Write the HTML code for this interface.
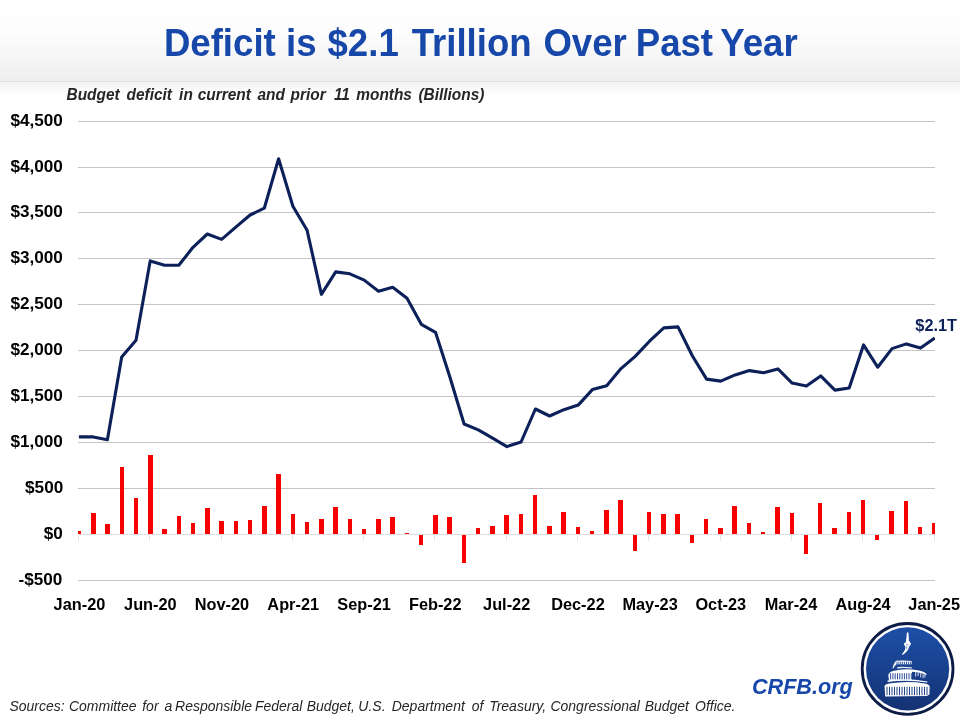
<!DOCTYPE html>
<html lang="en"><head><meta charset="utf-8"><title>Deficit is $2.1 Trillion Over Past Year</title>
<style>html,body{margin:0;padding:0;background:#fff}body{width:960px;height:720px;overflow:hidden}svg{display:block;will-change:transform;font-family:"Liberation Sans",sans-serif}</style>
</head><body>
<svg width="960" height="720" viewBox="0 0 960 720">
<defs>
<linearGradient id="hdr" x1="0" y1="0" x2="0" y2="1"><stop offset="0" stop-color="#ffffff"/><stop offset="0.38" stop-color="#fdfdfd"/><stop offset="1" stop-color="#eeeeee"/></linearGradient>
<linearGradient id="shd" x1="0" y1="0" x2="0" y2="1"><stop offset="0" stop-color="#f3f3f3"/><stop offset="1" stop-color="#ffffff"/></linearGradient>
<linearGradient id="disc" x1="0" y1="0" x2="0" y2="1"><stop offset="0" stop-color="#1d4fa8"/><stop offset="1" stop-color="#143273"/></linearGradient>
<mask id="tm" maskUnits="userSpaceOnUse" x="0" y="0" width="960" height="720"><rect width="960" height="720" fill="#fff"/></mask>
<clipPath id="plot"><rect x="78" y="100" width="857" height="500"/></clipPath>
</defs>
<rect width="960" height="720" fill="#fff"/>
<rect x="0" y="0" width="960" height="81" fill="url(#hdr)"/>
<rect x="0" y="81" width="960" height="1" fill="#e1e1e1"/>
<rect x="0" y="82" width="960" height="14" fill="url(#shd)"/>
<g fill="#c4c4c4">
<rect x="78" y="121" width="857" height="1"/>
<rect x="78" y="167" width="857" height="1"/>
<rect x="78" y="212" width="857" height="1"/>
<rect x="78" y="258" width="857" height="1"/>
<rect x="78" y="304" width="857" height="1"/>
<rect x="78" y="350" width="857" height="1"/>
<rect x="78" y="396" width="857" height="1"/>
<rect x="78" y="442" width="857" height="1"/>
<rect x="78" y="488" width="857" height="1"/>
<rect x="78" y="580" width="857" height="1"/>
</g>
<rect x="78" y="534" width="857" height="1" fill="#dcdddf"/>
<g fill="#e3e5e8">
<rect x="78" y="535" width="1" height="6"/>
<rect x="149" y="535" width="1" height="6"/>
<rect x="221" y="535" width="1" height="6"/>
<rect x="292" y="535" width="1" height="6"/>
<rect x="363" y="535" width="1" height="6"/>
<rect x="434" y="535" width="1" height="6"/>
<rect x="506" y="535" width="1" height="6"/>
<rect x="577" y="535" width="1" height="6"/>
<rect x="648" y="535" width="1" height="6"/>
<rect x="720" y="535" width="1" height="6"/>
<rect x="791" y="535" width="1" height="6"/>
<rect x="862" y="535" width="1" height="6"/>
<rect x="934" y="535" width="1" height="6"/>
</g>
<g fill="#f80000" clip-path="url(#plot)">
<rect x="77" y="531" width="4" height="3"/>
<rect x="91" y="513" width="5" height="21"/>
<rect x="105" y="524" width="5" height="10"/>
<rect x="120" y="467" width="4" height="67"/>
<rect x="134" y="498" width="4" height="36"/>
<rect x="148" y="455" width="5" height="79"/>
<rect x="162" y="529" width="5" height="5"/>
<rect x="177" y="516" width="4" height="18"/>
<rect x="191" y="523" width="4" height="11"/>
<rect x="205" y="508" width="5" height="26"/>
<rect x="219" y="521" width="5" height="13"/>
<rect x="234" y="521" width="4" height="13"/>
<rect x="248" y="520" width="4" height="14"/>
<rect x="262" y="506" width="5" height="28"/>
<rect x="276" y="474" width="5" height="60"/>
<rect x="291" y="514" width="4" height="20"/>
<rect x="305" y="522" width="4" height="12"/>
<rect x="319" y="519" width="5" height="15"/>
<rect x="333" y="507" width="5" height="27"/>
<rect x="348" y="519" width="4" height="15"/>
<rect x="362" y="529" width="4" height="5"/>
<rect x="376" y="519" width="5" height="15"/>
<rect x="390" y="517" width="5" height="17"/>
<rect x="405" y="533" width="4" height="1"/>
<rect x="419" y="535" width="4" height="10"/>
<rect x="433" y="515" width="5" height="19"/>
<rect x="447" y="517" width="5" height="17"/>
<rect x="462" y="535" width="4" height="28"/>
<rect x="476" y="528" width="4" height="6"/>
<rect x="490" y="526" width="5" height="8"/>
<rect x="504" y="515" width="5" height="19"/>
<rect x="519" y="514" width="4" height="20"/>
<rect x="533" y="495" width="4" height="39"/>
<rect x="547" y="526" width="5" height="8"/>
<rect x="561" y="512" width="5" height="22"/>
<rect x="576" y="527" width="4" height="7"/>
<rect x="590" y="531" width="4" height="3"/>
<rect x="604" y="510" width="5" height="24"/>
<rect x="618" y="500" width="5" height="34"/>
<rect x="633" y="535" width="4" height="16"/>
<rect x="647" y="512" width="4" height="22"/>
<rect x="661" y="514" width="5" height="20"/>
<rect x="675" y="514" width="5" height="20"/>
<rect x="690" y="535" width="4" height="8"/>
<rect x="704" y="519" width="4" height="15"/>
<rect x="718" y="528" width="5" height="6"/>
<rect x="732" y="506" width="5" height="28"/>
<rect x="747" y="523" width="4" height="11"/>
<rect x="761" y="532" width="4" height="2"/>
<rect x="775" y="507" width="5" height="27"/>
<rect x="790" y="513" width="4" height="21"/>
<rect x="804" y="535" width="4" height="19"/>
<rect x="818" y="503" width="4" height="31"/>
<rect x="832" y="528" width="5" height="6"/>
<rect x="847" y="512" width="4" height="22"/>
<rect x="861" y="500" width="4" height="34"/>
<rect x="875" y="535" width="4" height="5"/>
<rect x="889" y="511" width="5" height="23"/>
<rect x="904" y="501" width="4" height="33"/>
<rect x="918" y="527" width="4" height="7"/>
<rect x="932" y="523" width="4" height="11"/>
</g>
<polyline clip-path="url(#plot)" points="78.9,436.9 93.2,436.9 107.4,439.7 121.7,357.0 136.0,340.3 150.2,260.9 164.5,265.3 178.8,265.3 193.0,247.3 207.3,234.0 221.6,239.4 235.8,227.1 250.1,215.0 264.3,208.2 278.6,158.8 292.9,206.2 307.1,230.3 321.4,294.3 335.7,271.9 349.9,273.8 364.2,280.1 378.5,291.2 392.7,287.2 407.0,298.3 421.3,324.3 435.5,332.3 449.8,376.8 464.1,424.0 478.3,429.9 492.6,438.1 506.9,446.6 521.1,442.0 535.4,409.0 549.6,416.0 563.9,409.7 578.2,405.1 592.4,389.6 606.7,385.8 621.0,368.6 635.2,356.4 649.5,341.2 663.8,327.9 678.0,326.9 692.3,355.7 706.6,379.1 720.8,381.1 735.1,374.9 749.4,370.6 763.6,372.8 777.9,368.9 792.1,383.1 806.4,386.1 820.7,375.9 834.9,390.1 849.2,388.0 863.5,344.9 877.7,367.2 892.0,348.6 906.3,343.9 920.5,348.1 934.8,338.0" fill="none" stroke="#0c2059" stroke-width="3.1" stroke-linejoin="round" stroke-linecap="butt"/>
<g class="title" mask="url(#tm)">
<text x="163.89" y="56.00" font-size="39.00" font-weight="bold" fill="#1647a9" textLength="111.90" lengthAdjust="spacingAndGlyphs">Deficit</text>
<text x="285.98" y="56.00" font-size="39.00" font-weight="bold" fill="#1647a9" textLength="30.54" lengthAdjust="spacingAndGlyphs">is</text>
<text x="327.51" y="56.00" font-size="39.00" font-weight="bold" fill="#1647a9" textLength="71.26" lengthAdjust="spacingAndGlyphs">$2.1</text>
<text x="411.67" y="56.00" font-size="39.00" font-weight="bold" fill="#1647a9" textLength="120.01" lengthAdjust="spacingAndGlyphs">Trillion</text>
<text x="543.40" y="56.00" font-size="39.00" font-weight="bold" fill="#1647a9" textLength="83.45" lengthAdjust="spacingAndGlyphs">Over</text>
<text x="635.74" y="56.00" font-size="39.00" font-weight="bold" fill="#1647a9" textLength="77.34" lengthAdjust="spacingAndGlyphs">Past</text>
<text x="720.36" y="56.00" font-size="39.00" font-weight="bold" fill="#1647a9" textLength="77.37" lengthAdjust="spacingAndGlyphs">Year</text>
</g>
<g class="sub" mask="url(#tm)">
<text x="66.50" y="99.50" font-size="15.60" font-weight="bold" font-style="italic" fill="#262626" textLength="53.13" lengthAdjust="spacingAndGlyphs">Budget</text>
<text x="126.58" y="99.50" font-size="15.60" font-weight="bold" font-style="italic" fill="#262626" textLength="45.43" lengthAdjust="spacingAndGlyphs">deficit</text>
<text x="179.12" y="99.50" font-size="15.60" font-weight="bold" font-style="italic" fill="#262626" textLength="13.71" lengthAdjust="spacingAndGlyphs">in</text>
<text x="197.78" y="99.50" font-size="15.60" font-weight="bold" font-style="italic" fill="#262626" textLength="53.15" lengthAdjust="spacingAndGlyphs">current</text>
<text x="257.50" y="99.50" font-size="15.60" font-weight="bold" font-style="italic" fill="#262626" textLength="27.43" lengthAdjust="spacingAndGlyphs">and</text>
<text x="290.55" y="99.50" font-size="15.60" font-weight="bold" font-style="italic" fill="#262626" textLength="35.14" lengthAdjust="spacingAndGlyphs">prior</text>
<text x="333.94" y="99.50" font-size="15.60" font-weight="bold" font-style="italic" fill="#262626" textLength="16.02" lengthAdjust="spacingAndGlyphs">11</text>
<text x="356.26" y="99.50" font-size="15.60" font-weight="bold" font-style="italic" fill="#262626" textLength="55.70" lengthAdjust="spacingAndGlyphs">months</text>
<text x="418.39" y="99.50" font-size="15.60" font-weight="bold" font-style="italic" fill="#262626" textLength="65.98" lengthAdjust="spacingAndGlyphs">(Billions)</text>
</g>
<g class="ylab" mask="url(#tm)">
<text x="10.42" y="126.40" font-size="16.60" font-weight="bold" fill="#000" textLength="52.43" lengthAdjust="spacingAndGlyphs">$4,500</text>
<text x="10.42" y="172.40" font-size="16.60" font-weight="bold" fill="#000" textLength="52.43" lengthAdjust="spacingAndGlyphs">$4,000</text>
<text x="10.42" y="217.40" font-size="16.60" font-weight="bold" fill="#000" textLength="52.43" lengthAdjust="spacingAndGlyphs">$3,500</text>
<text x="10.42" y="263.40" font-size="16.60" font-weight="bold" fill="#000" textLength="52.43" lengthAdjust="spacingAndGlyphs">$3,000</text>
<text x="10.42" y="309.40" font-size="16.60" font-weight="bold" fill="#000" textLength="52.43" lengthAdjust="spacingAndGlyphs">$2,500</text>
<text x="10.42" y="355.40" font-size="16.60" font-weight="bold" fill="#000" textLength="52.43" lengthAdjust="spacingAndGlyphs">$2,000</text>
<text x="10.42" y="401.40" font-size="16.60" font-weight="bold" fill="#000" textLength="52.43" lengthAdjust="spacingAndGlyphs">$1,500</text>
<text x="10.42" y="447.40" font-size="16.60" font-weight="bold" fill="#000" textLength="52.43" lengthAdjust="spacingAndGlyphs">$1,000</text>
<text x="25.10" y="493.40" font-size="16.60" font-weight="bold" fill="#000" textLength="38.13" lengthAdjust="spacingAndGlyphs">$500</text>
<text x="43.68" y="539.40" font-size="16.60" font-weight="bold" fill="#000" textLength="19.07" lengthAdjust="spacingAndGlyphs">$0</text>
<text x="18.58" y="585.40" font-size="16.60" font-weight="bold" fill="#000" textLength="43.84" lengthAdjust="spacingAndGlyphs">-$500</text>
</g>
<g class="xlab" mask="url(#tm)">
<text x="53.61" y="609.70" font-size="16.20" font-weight="bold" fill="#000" textLength="51.70" lengthAdjust="spacingAndGlyphs">Jan-20</text>
<text x="124.09" y="609.70" font-size="16.20" font-weight="bold" fill="#000" textLength="52.60" lengthAdjust="spacingAndGlyphs">Jun-20</text>
<text x="194.70" y="609.70" font-size="16.20" font-weight="bold" fill="#000" textLength="54.41" lengthAdjust="spacingAndGlyphs">Nov-20</text>
<text x="267.36" y="609.70" font-size="16.20" font-weight="bold" fill="#000" textLength="51.69" lengthAdjust="spacingAndGlyphs">Apr-21</text>
<text x="337.33" y="609.70" font-size="16.20" font-weight="bold" fill="#000" textLength="53.51" lengthAdjust="spacingAndGlyphs">Sep-21</text>
<text x="408.93" y="609.70" font-size="16.20" font-weight="bold" fill="#000" textLength="52.60" lengthAdjust="spacingAndGlyphs">Feb-22</text>
<text x="483.08" y="609.70" font-size="16.20" font-weight="bold" fill="#000" textLength="47.16" lengthAdjust="spacingAndGlyphs">Jul-22</text>
<text x="551.20" y="609.70" font-size="16.20" font-weight="bold" fill="#000" textLength="53.52" lengthAdjust="spacingAndGlyphs">Dec-22</text>
<text x="622.40" y="609.70" font-size="16.20" font-weight="bold" fill="#000" textLength="55.33" lengthAdjust="spacingAndGlyphs">May-23</text>
<text x="695.42" y="609.70" font-size="16.20" font-weight="bold" fill="#000" textLength="50.79" lengthAdjust="spacingAndGlyphs">Oct-23</text>
<text x="764.68" y="609.70" font-size="16.20" font-weight="bold" fill="#000" textLength="52.60" lengthAdjust="spacingAndGlyphs">Mar-24</text>
<text x="835.40" y="609.70" font-size="16.20" font-weight="bold" fill="#000" textLength="55.30" lengthAdjust="spacingAndGlyphs">Aug-24</text>
<text x="908.34" y="609.70" font-size="16.20" font-weight="bold" fill="#000" textLength="51.70" lengthAdjust="spacingAndGlyphs">Jan-25</text>
</g>
<g class="dl" mask="url(#tm)">
<text x="915.36" y="330.60" font-size="16.60" font-weight="bold" fill="#0c2059" textLength="41.59" lengthAdjust="spacingAndGlyphs">$2.1T</text>
</g>
<g class="foot" mask="url(#tm)">
<text x="9.38" y="711.00" font-size="14.20" font-style="italic" fill="#262626" textLength="55.17" lengthAdjust="spacingAndGlyphs">Sources:</text>
<text x="68.98" y="711.00" font-size="14.20" font-style="italic" fill="#262626" textLength="67.59" lengthAdjust="spacingAndGlyphs">Committee</text>
<text x="142.23" y="711.00" font-size="14.20" font-style="italic" fill="#262626" textLength="16.32" lengthAdjust="spacingAndGlyphs">for</text>
<text x="164.43" y="711.00" font-size="14.20" font-style="italic" fill="#262626" textLength="7.78" lengthAdjust="spacingAndGlyphs">a</text>
<text x="175.08" y="711.00" font-size="14.20" font-style="italic" fill="#262626" textLength="76.94" lengthAdjust="spacingAndGlyphs">Responsible</text>
<text x="254.98" y="711.00" font-size="14.20" font-style="italic" fill="#262626" textLength="47.40" lengthAdjust="spacingAndGlyphs">Federal</text>
<text x="306.64" y="711.00" font-size="14.20" font-style="italic" fill="#262626" textLength="48.20" lengthAdjust="spacingAndGlyphs">Budget,</text>
<text x="358.36" y="711.00" font-size="14.20" font-style="italic" fill="#262626" textLength="27.19" lengthAdjust="spacingAndGlyphs">U.S.</text>
<text x="391.75" y="711.00" font-size="14.20" font-style="italic" fill="#262626" textLength="73.04" lengthAdjust="spacingAndGlyphs">Department</text>
<text x="471.80" y="711.00" font-size="14.20" font-style="italic" fill="#262626" textLength="11.66" lengthAdjust="spacingAndGlyphs">of</text>
<text x="489.19" y="711.00" font-size="14.20" font-style="italic" fill="#262626" textLength="56.97" lengthAdjust="spacingAndGlyphs">Treasury,</text>
<text x="550.48" y="711.00" font-size="14.20" font-style="italic" fill="#262626" textLength="89.37" lengthAdjust="spacingAndGlyphs">Congressional</text>
<text x="644.65" y="711.00" font-size="14.20" font-style="italic" fill="#262626" textLength="44.31" lengthAdjust="spacingAndGlyphs">Budget</text>
<text x="695.11" y="711.00" font-size="14.20" font-style="italic" fill="#262626" textLength="40.40" lengthAdjust="spacingAndGlyphs">Office.</text>
</g>
<g class="crfb" mask="url(#tm)">
<text x="751.94" y="693.80" font-size="22.60" font-weight="bold" font-style="italic" fill="#1647a9" textLength="100.88" lengthAdjust="spacingAndGlyphs">CRFB.org</text>
</g>
<g class="logo">
<circle cx="907.6" cy="668.9" r="45.4" fill="#fff" stroke="#0d1b47" stroke-width="2.8"/>
<circle cx="907.6" cy="668.9" r="41.6" fill="url(#disc)"/>
<path fill="#fff" d="M907.3 632.2 L908.4 632.4 L908.7 636 L908.9 640.5 L910.8 643.2 L910.6 645 L909.3 646.3 L908.2 649.5 L906.3 652 L904 654 L902.2 655 L901.9 654.3 L903.6 652 L905 649.8 L905.4 647 L904 644.6 L904.2 643.2 L905.9 642 L906.4 638 L906.7 634 Z"/>
<g fill="none" stroke="#1a469c" stroke-width="0.5"><path d="M906 644 L908.6 645.2 M906.8 646 L906.6 649"/></g>
<g fill="#fff">
<path d="M896 660.8 Q903 659.9 911.6 661 L911.6 664.2 L896.4 664.2 Q894.2 666.2 893.2 668.4 L892.5 668 Q893.4 663.8 896 660.8 Z"/>
<path d="M897.4 667 Q904 666.3 911.8 667.3 L911.8 668.5 Q904 667.6 897 668.4 Z" opacity="0.9"/>
<path d="M888.3 675.2 Q888.6 672.6 893 671 Q905 667.6 919 670.6 Q925.4 672 926.8 674.6 L925.6 675 Q922 672.6 912 671.8 L912 680 L889 680.6 Z"/>
<rect x="915.2" y="672.2" width="1" height="4.4" opacity="0.85"/>
<rect x="917.6" y="672.6" width="1" height="3.4" opacity="0.85"/>
<rect x="920.2" y="673.2" width="1" height="4.2" opacity="0.85"/>
<rect x="922.6" y="674.0" width="1" height="4.2" opacity="0.85"/>
<rect x="924.4" y="675.0" width="1" height="2.6" opacity="0.85"/>
<path d="M887.6 680.4 Q906 677.8 927.4 681.4 L927.4 682.4 Q906 679.2 887.6 682 Z"/>
<path d="M884.6 686.2 Q885 684.4 889 683.6 Q907 680.4 925 683.4 Q929.2 684.2 929.6 686.4 L929.4 694.6 L927 696 L885.2 696.6 Z"/>
</g>
<g stroke="#17408f" stroke-width="0.9" fill="none">
<path d="M890.6 673.2 V679.4"/>
<path d="M892.9 673.2 V679.4"/>
<path d="M895.2 673.2 V679.4"/>
<path d="M897.5 673.2 V679.4"/>
<path d="M899.8 673.2 V679.4"/>
<path d="M902.1 673.2 V679.4"/>
<path d="M904.4 673.2 V679.4"/>
<path d="M906.7 673.2 V679.4"/>
<path d="M909.0 673.2 V679.4"/>
<path d="M911.3 673.2 V679.4"/>
</g>
<g stroke="#1a479c" stroke-width="0.9" fill="none">
<path d="M897.0 661.7 V664.4"/>
<path d="M898.9 661.7 V664.4"/>
<path d="M900.8 661.7 V664.4"/>
<path d="M902.7 661.7 V664.4"/>
<path d="M904.6 661.7 V664.4"/>
<path d="M906.5 661.7 V664.4"/>
<path d="M908.4 661.7 V664.4"/>
<path d="M910.3 661.7 V664.4"/>
</g>
<g stroke="#15387f" stroke-width="0.95" fill="none">
<path d="M887.0 686.8 V695.2"/>
<path d="M889.5 686.8 V695.2"/>
<path d="M892.0 686.8 V695.2"/>
<path d="M894.5 686.8 V695.2"/>
<path d="M897.0 686.8 V695.2"/>
<path d="M899.5 686.8 V695.2"/>
<path d="M902.0 686.8 V695.2"/>
<path d="M904.5 686.8 V695.2"/>
<path d="M907.0 686.8 V695.2"/>
<path d="M909.5 686.8 V695.2"/>
<path d="M912.0 686.8 V695.2"/>
<path d="M914.5 686.8 V695.2"/>
<path d="M917.0 686.8 V695.2"/>
<path d="M919.5 686.8 V695.2"/>
<path d="M922.0 686.8 V695.2"/>
<path d="M924.5 686.8 V695.2"/>
<path d="M927.0 686.8 V695.2"/>
</g>
</g>
</svg></body></html>
